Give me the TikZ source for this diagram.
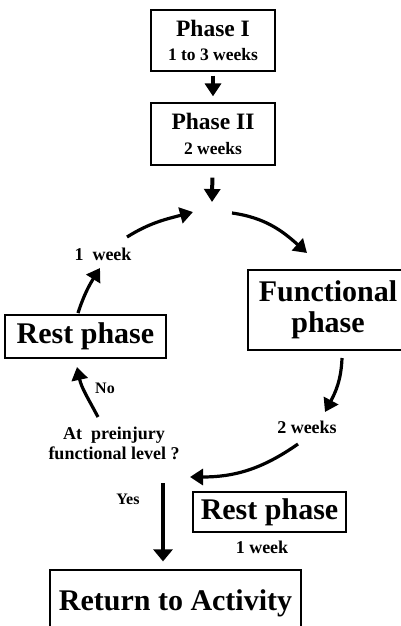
\documentclass[tikz,border=0pt]{standalone}
\usepackage{fontspec}
\setmainfont{Liberation Serif}
\usepackage{tikz}
\usetikzlibrary{arrows.meta}

\newcommand{\fsz}[1]{\fontsize{#1}{1.1\dimexpr#1pt\relax}\selectfont\bfseries}

\begin{document}
\begin{tikzpicture}[x=1pt, y=1pt,
    phasebox/.style={draw, line width=1.2pt, align=center, inner sep=0pt},
    lbl/.style={align=center, inner sep=0pt},
    flow/.style={line width=3.2pt, -{Triangle[length=13pt,width=16pt]}},
    bigflow/.style={line width=4.5pt, -{Triangle[length=12pt,width=19pt]}}]
  \useasboundingbox (0,0) rectangle (401,-626);

  % Boxes
  \node[phasebox, minimum width=124pt, minimum height=61pt, font=\fsz{23.5}]
    (p1) at (213,-40.5) {Phase I\\[-1pt]{\fsz{17.5}1 to 3 weeks}};
  \node[phasebox, minimum width=124pt, minimum height=62pt, font=\fsz{23.5}]
    (p2) at (213,-134) {Phase II\\[-1pt]{\fsz{17.5}2 weeks}};
  \node[phasebox, minimum width=160pt, minimum height=80pt, font=\fsz{30}]
    (func) at (328,-310) {Functional\\[-2pt]phase}; % right side runs off the page
  \node[phasebox, minimum width=161pt, minimum height=43pt, font=\fsz{30}]
    (rest1) at (85.5,-336.5) {Rest phase};
  \node[phasebox, minimum width=153pt, minimum height=40pt, font=\fsz{30}]
    (rest2) at (269.5,-512) {Rest phase};
  \node[phasebox, minimum width=251pt, minimum height=66pt, font=\fsz{30}]
    (ret) at (175.5,-603) {Return to Activity}; % bottom runs off the page

  % Labels
  \node[lbl, font=\fsz{18}] (week1) at (103,-254) {1\ \ week};
  \node[lbl, font=\fsz{18}] (weeks2) at (307,-427) {2 weeks};
  \node[lbl, font=\fsz{18}] (quest) at (114,-443) {At\ \ preinjury\\functional level ?};
  \node[lbl, font=\fsz{16}] (no) at (105,-388) {No};
  \node[lbl, font=\fsz{16}] (yes) at (128,-499) {Yes};
  \node[lbl, font=\fsz{18}] (week1b) at (262,-547) {1 week};

  % Loop points
  \coordinate (hub) at (212,-202);
  \coordinate (loopin) at (193,-212);
  \coordinate (loopout) at (232,-213);
  \coordinate (join) at (190,-477);
  \coordinate (restup) at (78,-313);
  \coordinate (wkbelow) at (100,-268);
  \coordinate (wkabove) at (127,-237);
  \coordinate (funcabove) at (307,-253);
  \coordinate (funcbelow) at (342,-358);
  \coordinate (wktwoabove) at (325,-412);
  \coordinate (wktwobelow) at (298,-444);
  \coordinate (questup) at (98,-417);
  \coordinate (restdown) at (77,-367);
  \coordinate (yesfrom) at (163,-483);

  % Straight arrows
  \draw[flow, line width=4pt, shorten <=4pt, shorten >=6pt] (p1) -- (p2);
  \draw[flow, line width=4pt, shorten <=12pt] (p2) -- (hub);
  \draw[bigflow, shorten >=8pt] (yesfrom) -- (yesfrom |- ret.north);

  % Curved arrows of the loop
  \draw[flow] (restup) to[out=72, in=-122] (wkbelow);
  \draw[flow] (wkabove) to[out=32, in=195] (loopin);
  \draw[flow] (loopout) to[out=-8, in=138] (funcabove);
  \draw[flow] (funcbelow) to[out=-92, in=62] (wktwoabove);
  \draw[flow] (wktwobelow) to[out=-145, in=0] (join);
  \draw[flow] (questup) to[out=118, in=-78] (restdown);
\end{tikzpicture}
\end{document}
